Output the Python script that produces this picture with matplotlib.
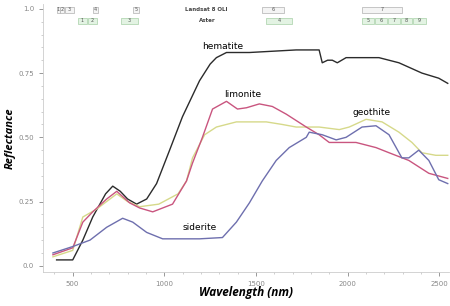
import matplotlib.pyplot as plt
import matplotlib.patches as mpatches
from matplotlib.ticker import MultipleLocator

# spectra (wavelength nm, reflectance)
hem_wl = [413, 501, 556, 610, 680, 719, 760, 800, 849, 904, 958, 1029, 1099, 1192, 1250, 1284, 1339, 1464,
          1719, 1844, 1861, 1890, 1916, 1943, 1991, 2045, 2170, 2279, 2404, 2496, 2545]
hem_r = [0.023, 0.023, 0.10, 0.19, 0.28, 0.31, 0.29, 0.26, 0.24, 0.26, 0.32, 0.45, 0.58, 0.72, 0.785, 0.81,
         0.83, 0.83, 0.84, 0.84, 0.79, 0.80, 0.80, 0.79, 0.81, 0.81, 0.81, 0.79, 0.75, 0.73, 0.71]

lim_wl = [393, 501, 556, 610, 686, 741, 811, 866, 937, 1045, 1121, 1154, 1208, 1263, 1339, 1399,
          1448, 1518, 1589, 1665, 1774, 1844, 1899, 1954, 2045, 2154, 2225, 2333, 2442, 2545]
lim_r = [0.043, 0.07, 0.17, 0.21, 0.26, 0.29, 0.245, 0.225, 0.21, 0.24, 0.33, 0.40, 0.50, 0.61, 0.64,
         0.61, 0.615, 0.63, 0.62, 0.59, 0.54, 0.51, 0.48, 0.48, 0.48, 0.46, 0.44, 0.41, 0.36, 0.34]

goe_wl = [393, 501, 556, 630, 741, 800, 866, 970, 1075, 1121, 1154, 1220, 1284, 1393, 1464, 1556,
          1643, 1719, 1790, 1844, 1954, 2008, 2100, 2187, 2279, 2350, 2404, 2480, 2545]
goe_r = [0.035, 0.06, 0.19, 0.22, 0.28, 0.25, 0.23, 0.24, 0.28, 0.33, 0.42, 0.51, 0.54, 0.56, 0.56,
         0.56, 0.55, 0.54, 0.54, 0.54, 0.53, 0.54, 0.57, 0.56, 0.52, 0.48, 0.44, 0.43, 0.43]

sid_wl = [393, 501, 595, 686, 773, 828, 904, 991, 1138, 1192, 1317, 1393, 1464, 1534, 1610, 1681,
          1774, 1790, 1861, 1937, 1991, 2078, 2154, 2225, 2295, 2333, 2387, 2442, 2496, 2545]
sid_r = [0.05, 0.075, 0.10, 0.15, 0.185, 0.17, 0.13, 0.105, 0.105, 0.105, 0.11, 0.17, 0.245, 0.33,
         0.41, 0.46, 0.50, 0.52, 0.51, 0.49, 0.50, 0.54, 0.545, 0.51, 0.42, 0.42, 0.45, 0.41, 0.335, 0.32]

# sensor bands (nm)
oli_names = ["1", "2", "3", "4", "5", "6", "7"]
oli_lo = [413, 431, 458, 610, 828, 1535, 2078]
oli_hi = [431, 453, 507, 638, 860, 1655, 2296]
aster_names = ["1", "2", "3", "4", "5", "6", "7", "8", "9"]
aster_lo = [529, 583, 763, 1556, 2078, 2150, 2222, 2290, 2358]
aster_hi = [578, 632, 855, 1697, 2143, 2214, 2283, 2352, 2426]

fig, ax = plt.subplots(figsize=(4.5, 3.06), dpi=100)
fig.subplots_adjust(left=0.096, right=0.997, top=0.988, bottom=0.112)

ax.plot(hem_wl, hem_r, color="#2b2b2b", lw=1.0)
ax.plot(goe_wl, goe_r, color="#d6d98a", lw=1.0)
ax.plot(lim_wl, lim_r, color="#c9557f", lw=1.0)
ax.plot(sid_wl, sid_r, color="#6e6fae", lw=1.0)

ax.text(1317, 0.852, "hematite", fontsize=6.5, ha="center", va="center")
ax.text(1426, 0.665, "limonite", fontsize=6.5, ha="center", va="center")
ax.text(2132, 0.595, "geothite", fontsize=6.5, ha="center", va="center")
ax.text(1192, 0.148, "siderite", fontsize=6.5, ha="center", va="center")

# band boxes
for n, lo, hi in zip(oli_names, oli_lo, oli_hi):
    ax.add_patch(mpatches.Rectangle((lo, 0.984), hi - lo, 0.024, fc="#f4f4f4", ec="#b0b0b0", lw=0.5))
    ax.text((lo + hi) / 2, 0.996, n, fontsize=3.5, ha="center", va="center", color="#555555")
for n, lo, hi in zip(aster_names, aster_lo, aster_hi):
    ax.add_patch(mpatches.Rectangle((lo, 0.941), hi - lo, 0.024, fc="#e3f3e3", ec="#a8d0a8", lw=0.5))
    ax.text((lo + hi) / 2, 0.953, n, fontsize=3.5, ha="center", va="center", color="#555555")
ax.text(1231, 0.996, "Landsat 8 OLI", fontsize=4, ha="center", va="center", color="#444444", fontweight="bold")
ax.text(1236, 0.953, "Aster", fontsize=4, ha="center", va="center", color="#444444", fontweight="bold")

ax.set_xlim(340, 2550)
ax.set_ylim(-0.023, 1.02)
ax.set_xticks([500, 1000, 1500, 2000, 2500])
ax.set_yticks([0, 0.25, 0.5, 0.75, 1.0])
ax.set_yticklabels(["0.0", "0.25", "0.50", "0.75", "1.0"])
ax.xaxis.set_minor_locator(MultipleLocator(100))
ax.yaxis.set_minor_locator(MultipleLocator(0.05))
ax.tick_params(labelsize=5, colors="#888888", length=3, width=0.6)
ax.tick_params(which="minor", length=1.5, width=0.5, colors="#bbbbbb")
for s in ["top", "right"]:
    ax.spines[s].set_visible(False)
for s in ["left", "bottom"]:
    ax.spines[s].set_color("#cccccc")
    ax.spines[s].set_linewidth(0.6)

ax.set_xlabel("Wavelength (nm)", fontsize=8.5, fontweight="bold", fontstyle="italic",
              family="Open Sans")
ax.set_ylabel("Reflectance", fontsize=8, fontweight="bold", fontstyle="italic",
              family="Open Sans")
ax.xaxis.set_label_coords(0.5, -0.055)
ax.yaxis.set_label_coords(-0.069, 0.5)

fig.savefig("out.png", dpi=100)
